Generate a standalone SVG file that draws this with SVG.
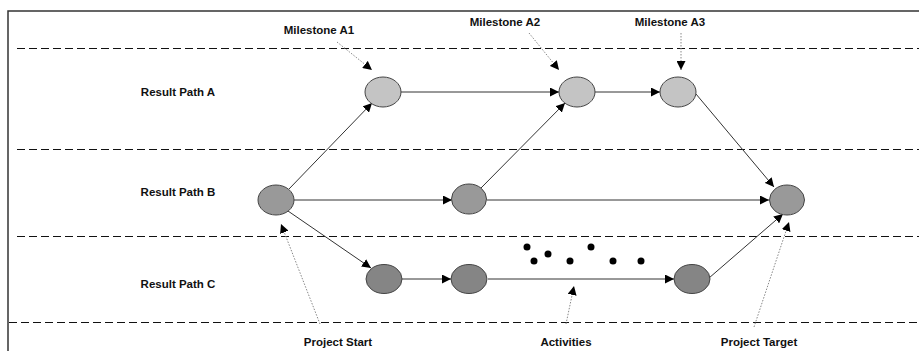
<svg xmlns="http://www.w3.org/2000/svg" width="919" height="351" viewBox="0 0 919 351">
<defs>
<marker id="ah" viewBox="0 0 10 10" refX="10" refY="5" markerWidth="9" markerHeight="9" markerUnits="userSpaceOnUse" orient="auto"><path d="M0,0 L10,5 L0,10 z" fill="#000"/></marker>
<style>
.lane{stroke:#111;stroke-width:1;stroke-dasharray:8,4;fill:none}
.frame{stroke:#333;stroke-width:1.5;fill:none}
.c{stroke:#333;stroke-width:1;fill:none;marker-end:url(#ah)}
.d{stroke:#888;stroke-width:1;stroke-dasharray:1.5,1.5;fill:none;marker-end:url(#ah)}
.na{fill:#c4c4c4;stroke:#444;stroke-width:1}
.nb{fill:#999999;stroke:#444;stroke-width:1}
.nc{fill:#858585;stroke:#444;stroke-width:1}
text{font-family:"Liberation Sans",Arial,sans-serif;font-weight:bold;font-size:11.5px;fill:#111;text-anchor:middle}
.dot{fill:#000}
</style>
</defs>
<rect width="919" height="351" fill="#fff"/>
<g id="frame">
<path class="frame" d="M8,351 V11 H919"/>
<line class="lane" x1="17" y1="48.5" x2="919" y2="48.5"/>
<line class="lane" x1="17" y1="149.5" x2="919" y2="149.5"/>
<line class="lane" x1="17" y1="236.5" x2="919" y2="236.5"/>
<line class="lane" x1="9" y1="322.5" x2="919" y2="322.5"/>
</g>
<g id="lane-labels">
<text x="178" y="96">Result Path A</text>
<text x="178" y="196">Result Path B</text>
<text x="178" y="288">Result Path C</text>
</g>
<g id="connectors">
<line class="c" x1="289" y1="189" x2="372" y2="103"/>
<line class="c" x1="401" y1="92" x2="559" y2="92"/>
<line class="c" x1="595" y1="92" x2="660" y2="92"/>
<line class="c" x1="696" y1="94" x2="774" y2="187"/>
<line class="c" x1="294" y1="200" x2="452" y2="200"/>
<line class="c" x1="481" y1="188" x2="565" y2="103"/>
<line class="c" x1="487" y1="200" x2="769" y2="200"/>
<line class="c" x1="288" y1="211" x2="371" y2="268"/>
<line class="c" x1="402" y1="279" x2="451" y2="279"/>
<line class="c" x1="488" y1="279" x2="674" y2="279"/>
<line class="c" x1="709" y1="278" x2="783" y2="214"/>
<line class="d" x1="337" y1="42" x2="372" y2="70"/>
<line class="d" x1="529" y1="33" x2="559" y2="70"/>
<line class="d" x1="681" y1="33" x2="681" y2="70"/>
<line class="d" x1="320" y1="324" x2="281" y2="224"/>
<line class="d" x1="566" y1="324" x2="574" y2="286"/>
<line class="d" x1="754" y1="327" x2="789" y2="222"/>
</g>
<g id="milestone-a1"><ellipse class="na" cx="383" cy="92" rx="18" ry="15"/><text x="319" y="34">Milestone A1</text></g>
<g id="milestone-a2"><ellipse class="na" cx="577" cy="92" rx="18" ry="15"/><text x="505" y="26">Milestone A2</text></g>
<g id="milestone-a3"><ellipse class="na" cx="678" cy="92" rx="18" ry="15"/><text x="670" y="26">Milestone A3</text></g>
<g id="project-start"><ellipse class="nb" cx="276" cy="200" rx="18" ry="15"/><text x="338" y="346">Project Start</text></g>
<g id="node-b2"><ellipse class="nb" cx="469" cy="199" rx="17.5" ry="15"/></g>
<g id="project-target"><ellipse class="nb" cx="787" cy="200" rx="17.5" ry="15"/><text x="759" y="346">Project Target</text></g>
<g id="node-c1"><ellipse class="nc" cx="384" cy="279" rx="18" ry="14.5"/></g>
<g id="node-c2"><ellipse class="nc" cx="469" cy="279" rx="18" ry="14.5"/></g>
<g id="node-c3"><ellipse class="nc" cx="692" cy="279" rx="18" ry="14.5"/></g>
<g id="activities">
<circle class="dot" cx="527" cy="247" r="3.5"/>
<circle class="dot" cx="534" cy="261" r="3.5"/>
<circle class="dot" cx="548" cy="254" r="3.5"/>
<circle class="dot" cx="570" cy="261" r="3.5"/>
<circle class="dot" cx="591" cy="247" r="3.5"/>
<circle class="dot" cx="613" cy="261" r="3.5"/>
<circle class="dot" cx="641" cy="261" r="3.5"/>
<text x="566" y="346">Activities</text>
</g>
</svg>
